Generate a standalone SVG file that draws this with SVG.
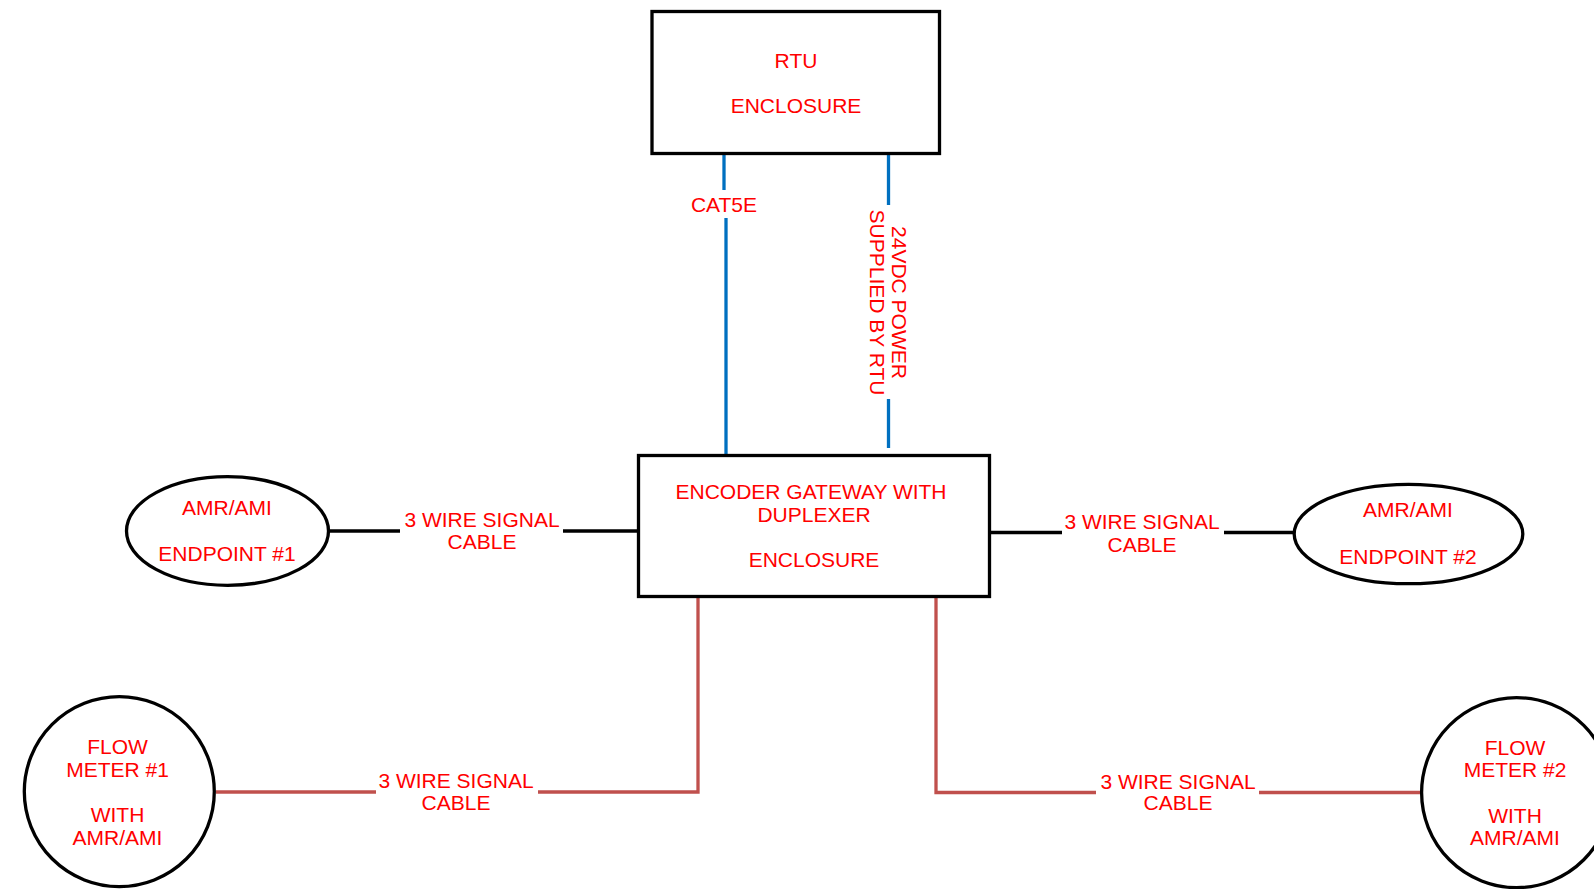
<svg xmlns="http://www.w3.org/2000/svg" width="1594" height="889" viewBox="0 0 1594 889">
<style>
.box{fill:#fff;stroke:#000;stroke-width:3.3}
.t{font-family:"Liberation Sans",Arial,sans-serif;font-size:21px;fill:#ff0000;text-anchor:middle}
.blk{stroke:#000;stroke-width:3.3;fill:none}
.blu{stroke:#0070c0;stroke-width:3.3;fill:none}
.red{stroke:#c0504d;stroke-width:3.3;fill:none}
</style>
<rect width="1594" height="889" fill="#fff"/>
<g id="connectors">
  <line class="blu" x1="724" y1="155" x2="724" y2="190"/>
  <line class="blu" x1="726" y1="218" x2="726" y2="454"/>
  <text class="t" x="724" y="212">CAT5E</text>
  <line class="blu" x1="888.5" y1="155" x2="888.5" y2="205"/>
  <line class="blu" x1="888.5" y1="399" x2="888.5" y2="448"/>
  <g transform="rotate(90 888 302.5)">
    <text class="t" x="888" y="298.5">24VDC POWER</text>
    <text class="t" x="888" y="321">SUPPLIED BY RTU</text>
  </g>
  <line class="blk" x1="330" y1="531" x2="400" y2="531"/>
  <line class="blk" x1="563" y1="531" x2="637" y2="531"/>
  <text class="t" x="482" y="527">3 WIRE SIGNAL</text>
  <text class="t" x="482" y="548.5">CABLE</text>
  <line class="blk" x1="991" y1="532.5" x2="1062" y2="532.5"/>
  <line class="blk" x1="1224" y1="532.5" x2="1293" y2="532.5"/>
  <text class="t" x="1142" y="529">3 WIRE SIGNAL</text>
  <text class="t" x="1142" y="552">CABLE</text>
  <polyline class="red" points="698,598 698,792 538,792"/>
  <line class="red" x1="376" y1="792" x2="216" y2="792"/>
  <text class="t" x="456" y="787.5">3 WIRE SIGNAL</text>
  <text class="t" x="456" y="810">CABLE</text>
  <polyline class="red" points="936,598 936,792.5 1096,792.5"/>
  <line class="red" x1="1259" y1="792.5" x2="1420" y2="792.5"/>
  <text class="t" x="1178" y="788.5">3 WIRE SIGNAL</text>
  <text class="t" x="1178" y="810">CABLE</text>
</g>
<g id="rtu">
  <rect class="box" x="652" y="11.5" width="287.5" height="142"/>
  <text class="t" x="796" y="68">RTU</text>
  <text class="t" x="796" y="113">ENCLOSURE</text>
</g>
<g id="gateway">
  <rect class="box" x="638.5" y="455.5" width="351" height="141"/>
  <text class="t" x="811" y="499">ENCODER GATEWAY WITH</text>
  <text class="t" x="814" y="522">DUPLEXER</text>
  <text class="t" x="814" y="567">ENCLOSURE</text>
</g>
<g id="endpoint1">
  <ellipse class="box" cx="227.5" cy="531" rx="101" ry="54.3"/>
  <text class="t" x="227" y="514.5">AMR/AMI</text>
  <text class="t" x="227" y="561">ENDPOINT #1</text>
</g>
<g id="endpoint2">
  <ellipse class="box" cx="1408.5" cy="534" rx="114.3" ry="49.7"/>
  <text class="t" x="1408" y="517">AMR/AMI</text>
  <text class="t" x="1408" y="563.5">ENDPOINT #2</text>
</g>
<g id="flowmeter1">
  <circle class="box" cx="119.3" cy="791.6" r="95"/>
  <text class="t" x="117.5" y="753.5">FLOW</text>
  <text class="t" x="117.5" y="777">METER #1</text>
  <text class="t" x="117.5" y="822">WITH</text>
  <text class="t" x="117.5" y="845">AMR/AMI</text>
</g>
<g id="flowmeter2">
  <circle class="box" cx="1516.6" cy="792.6" r="95"/>
  <text class="t" x="1515" y="755">FLOW</text>
  <text class="t" x="1515" y="777">METER #2</text>
  <text class="t" x="1515" y="823">WITH</text>
  <text class="t" x="1515" y="845">AMR/AMI</text>
</g>
</svg>
